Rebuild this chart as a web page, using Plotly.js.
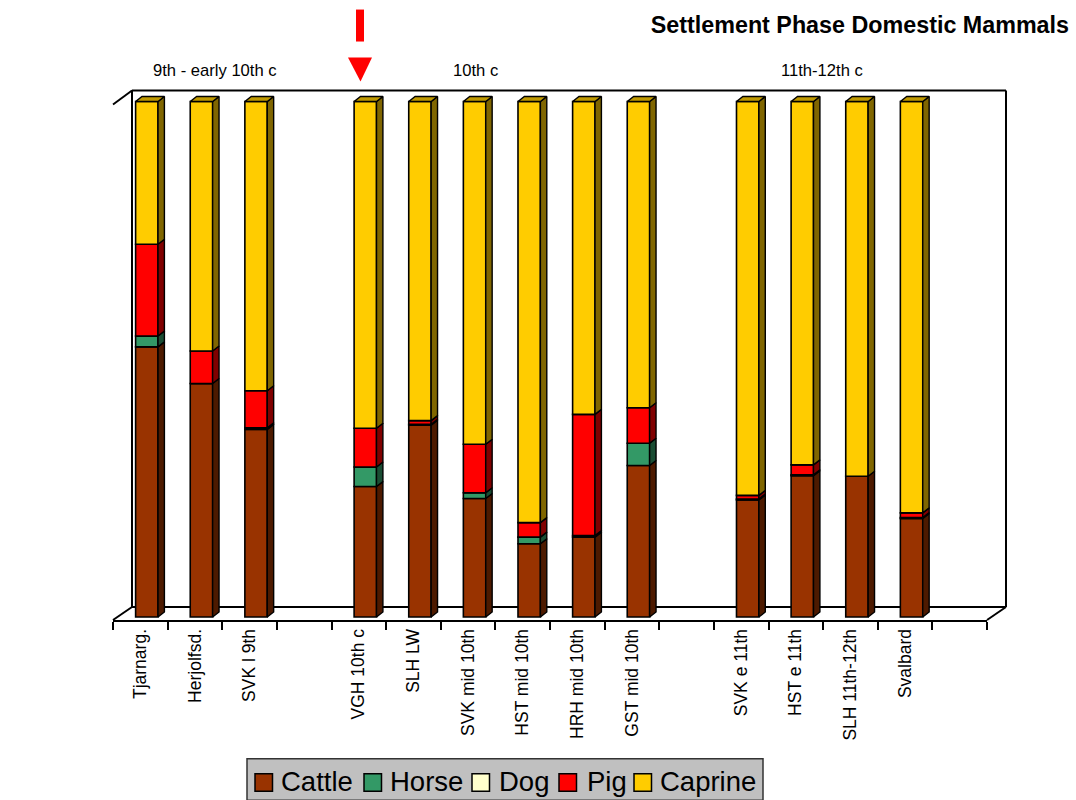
<!DOCTYPE html>
<html>
<head>
<meta charset="utf-8">
<script src="https://cdn.plot.ly/plotly-3.0.1.min.js"></script>
<style>html,body{margin:0;padding:0;background:#fff}</style>
</head>
<body>
<div id="chart" style="width:1076px;height:800px"></div>
<script>
const categories = ["Tjarnarg.","Herjolfsd.","SVK l 9th","","VGH 10th c","SLH LW","SVK mid 10th","HST mid 10th","HRH mid 10th","GST mid 10th","","SVK e 11th","HST e 11th","SLH 11th-12th","Svalbard",""];
const cattle  = [52.4,45.3,36.4,null,25.3,37.2,23.0,14.2,15.5,29.4,null,22.7,27.4,27.3,19.1,null];
const horse   = [2.1,0,0.3,null,3.8,0.2,1.1,1.3,0.3,4.3,null,0.2,0.2,0,0.2,null];
const dog     = [0,0,0,null,0,0,0,0,0,0,null,0,0,0,0,null];
const pig     = [17.8,6.3,7.2,null,7.5,0.7,9.4,2.8,23.5,6.9,null,0.7,1.9,0,0.9,null];
const caprine = [27.7,48.4,56.1,null,63.4,61.9,66.5,81.7,60.7,59.4,null,76.4,70.5,72.7,79.8,null];

const seriesNames = ["Cattle","Horse","Dog","Pig","Caprine"];
const seriesData = [cattle,horse,dog,pig,caprine];
const frontColors = ["#993300","#339966","#FFFFCC","#FF0000","#FFCC00"];
const sideColors = ["#4D1A00","#1A4D33","#80806A","#800000","#806600"];
const topColor = "#BF9900";

// pixel geometry of the front plane
const L = 113, R = 987, B = 620, T = 104;
const pctH = (B - T) / 100, maxPct = 103;
const PT = B - pctH * maxPct;        // top of the data subplot, leaves room for the 3D caps
const fx = p => (p - L) / (R - L);
const fy = p => (B - p) / (B - PT);
const slotW = (R - L) / 16;
const barShift = 6.5 / slotW, barW = 22.4 / slotW;
const lift = 3 / pctH;               // bars stand slightly behind the axis plane
const depthX = 6.4 / slotW, depthY = 5 / pctH;

const idx = categories.map((c, i) => i).filter(i => categories[i] !== "");
const cum = idx.map(() => lift);
const traces = [], faces = [];

seriesData.forEach((vals, s) => {
  const ys = idx.map(i => vals[i]), bases = cum.slice();
  traces.push({
    type: "bar", name: seriesNames[s], x: idx, y: ys, base: bases, yaxis: "y2",
    width: barW, offset: -barW / 2 + barShift,
    marker: {color: frontColors[s], line: {color: "#000", width: 1.6}},
    showlegend: false, hoverinfo: "name+y"
  });
  const sx = [], sy = [];
  idx.forEach((i, k) => {
    const v = vals[i];
    if (v > 0) {
      const xr = i + barShift + barW / 2;
      const y0 = cum[k], y1 = cum[k] + v;
      sx.push(xr, xr + depthX, xr + depthX, xr, xr, null);
      sy.push(y0, y0 + depthY, y1 + depthY, y1, y0, null);
    }
    cum[k] += v;
  });
  if (sx.length) faces.push({
    type: "scatter", mode: "lines", x: sx, y: sy, yaxis: "y2", fill: "toself", fillcolor: sideColors[s],
    line: {color: "#000", width: 1.4}, showlegend: false, hoverinfo: "skip"
  });
});
// top caps
const tx = [], ty = [];
idx.forEach((i, k) => {
  const xl = i + barShift - barW / 2, xr = xl + barW, y = cum[k];
  tx.push(xl, xl + depthX, xr + depthX, xr, xl, null);
  ty.push(y, y + depthY, y + depthY, y, y, null);
});
faces.push({
  type: "scatter", mode: "lines", x: tx, y: ty, yaxis: "y2", fill: "toself", fillcolor: topColor,
  line: {color: "#000", width: 1.4}, showlegend: false, hoverinfo: "skip"
});

const wallLine = {color: "#000", width: 2};
const seg = (x0, y0, x1, y1) => ({type: "line", xref: "paper", yref: "paper", layer: "below",
  x0: fx(x0), y0: fy(y0), x1: fx(x1), y1: fy(y1), line: wallLine});
const shapes = [
  seg(132, 90, 1006, 90), seg(132, 90, 132, 607), seg(1006, 90, 1006, 607), seg(132, 607, 1006, 607),
  seg(113, 104, 132, 90), seg(113, 620, 132, 607), seg(987, 620, 1006, 607),
  {type: "rect", xref: "paper", yref: "paper", x0: fx(356), x1: fx(364), y0: fy(9), y1: fy(41),
   fillcolor: "#FF0000", line: {width: 0}},
  {type: "path", xref: "paper", yref: "paper", fillcolor: "#FF0000", line: {width: 0},
   path: `M${fx(348)},${fy(57)} L${fx(372)},${fy(57)} L${fx(360.5)},${fy(81)} Z`}
];

const groupNote = (text, px) => ({text, xref: "paper", yref: "paper", x: fx(px), y: fy(70),
  showarrow: false, xanchor: "center", yanchor: "middle", font: {size: 16.6, color: "#000"}});
const annotations = [groupNote("9th - early 10th c", 215), groupNote("10th c", 475), groupNote("11th-12th c", 822)];

// legend panel
shapes.push({type: "rect", xref: "paper", yref: "paper", x0: fx(247), x1: fx(763), y0: fy(759), y1: fy(800.5),
  fillcolor: "#C0C0C0", line: {color: "#333", width: 1.5}});
const swatchLeft = [255, 364, 472, 559, 634], legendTextLeft = [280, 389, 498, 586, 659];
seriesNames.forEach((name, s) => {
  shapes.push({type: "rect", xref: "paper", yref: "paper", x0: fx(swatchLeft[s]), x1: fx(swatchLeft[s] + 17.5),
    y0: fy(774), y1: fy(791.5), fillcolor: frontColors[s], line: {color: "#000", width: 1.5}});
  annotations.push({text: name, xref: "paper", yref: "paper", x: fx(legendTextLeft[s] - 1), y: fy(782),
    showarrow: false, xanchor: "left", yanchor: "middle", font: {size: 27.5, color: "#000"}});
});

const layout = {
  width: 1076, height: 800, autosize: false,
  margin: {l: L, r: 1076 - R, t: PT, b: 800 - B, pad: 0, autoexpand: false},
  paper_bgcolor: "#fff", plot_bgcolor: "rgba(0,0,0,0)",
  font: {family: "Liberation Sans, Arial, sans-serif", color: "#000"},
  barmode: "overlay", showlegend: false,
  title: {text: "<b>Settlement Phase Domestic Mammals</b>", font: {size: 23.3, color: "#000"},
    x: 1069 / 1076, xanchor: "right", xref: "container", y: 1 - 25 / 800, yanchor: "middle", yref: "container"},
  xaxis: {
    type: "linear", range: [-0.5, 15.5], showgrid: false, zeroline: false, anchor: "y",
    tickmode: "array", tickvals: categories.map((c, i) => i), ticktext: categories,
    tickangle: -90, ticks: "", tickfont: {size: 17.5, color: "#000"},
    showline: true, linecolor: "#000", linewidth: 2,
    minor: {tickmode: "array", tickvals: categories.map((c, i) => i - 0.5).concat([15.5]),
      ticks: "outside", ticklen: 8, tickwidth: 2, tickcolor: "#000", showgrid: false}
  },
  yaxis: {
    range: [0, 100], domain: [0, 100 / maxPct], anchor: "x",
    tickvals: [0, 20, 40, 60, 80, 100], ticktext: ["0%","20%","40%","60%","80%","100%"],
    showgrid: false, zeroline: false, showline: true, linecolor: "#000", linewidth: 2,
    ticks: "outside", ticklen: 7, tickwidth: 2, tickcolor: "#000", tickfont: {size: 16.6, color: "#000"},
    title: {text: "<b>% Domestic Mammal (NISP)</b>", font: {size: 17.5, color: "#000"}, standoff: 29}
  },
  yaxis2: {range: [0, maxPct], domain: [0, 1], anchor: "x", visible: false, showgrid: false, zeroline: false},
  shapes, annotations
};
Plotly.newPlot("chart", traces.concat(faces), layout, {displayModeBar: false, responsive: false});
</script>
</body>
</html>
